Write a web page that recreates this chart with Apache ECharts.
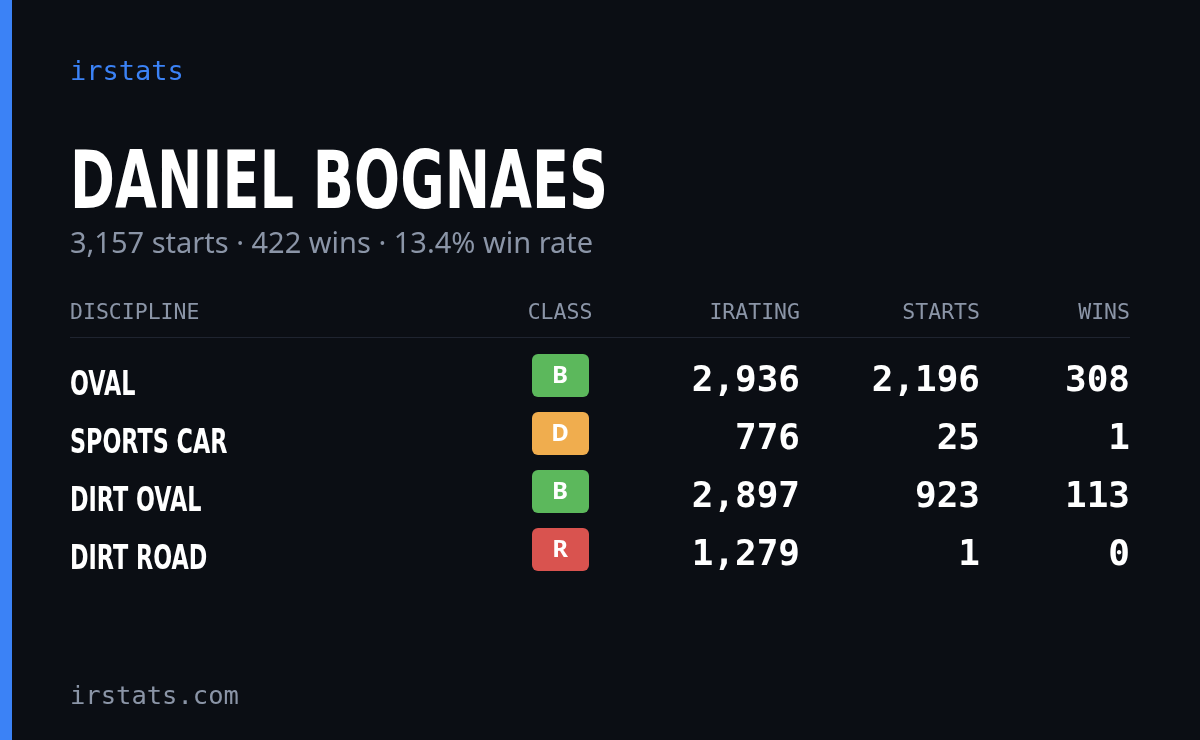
<!DOCTYPE html>
<html><head><meta charset="utf-8">
<script src="https://cdn.jsdelivr.net/npm/echarts@6/dist/echarts.min.js"></script>
<style>html,body{margin:0;background:#0b0e14}#main{width:1200px;height:740px}</style>
</head><body><div id="main"></div>
<script>
var chart = echarts.init(document.getElementById('main'));
var disciplines = ['OVAL', 'SPORTS CAR', 'DIRT OVAL', 'DIRT ROAD'];
var classes = ['B', 'D', 'B', 'R'];
var iratings = [2936, 776, 2897, 1279];
var starts = [2196, 25, 923, 1];
var wins = [308, 1, 113, 0];
var headers = ['DISCIPLINE', 'CLASS', 'IRATING', 'STARTS', 'WINS'];
var classColors = { B: '#5cb85c', D: '#f0ad4e', R: '#d9534f' };

var mono = '"DejaVu Sans Mono", monospace';
var cond = '"DejaVu Sans", sans-serif';
function fmt(n) { return n.toLocaleString('en-US'); }

var g = [
  { type: 'rect', shape: { x: 0, y: 0, width: 12, height: 740 }, style: { fill: '#3b82f6' } },
  { type: 'text', x: 70, y: 73, style: { text: 'irstats', fill: '#3b82f6', font: '27px ' + mono, verticalAlign: 'middle' } },
  // condensed look by squeezing horizontally
  { type: 'text', x: 70, y: 187, scaleX: 0.645, scaleY: 0.95, style: { text: 'DANIEL BOGNAES', fill: '#ffffff', font: 'bold 84px ' + cond, verticalAlign: 'middle' } },
  { type: 'text', x: 70, y: 245, style: { text: '3,157 starts · 422 wins · 13.4% win rate', fill: '#8b95a7', font: '29px "Noto Sans", sans-serif', verticalAlign: 'middle' } },
  { type: 'rect', shape: { x: 70, y: 337, width: 1060, height: 1 }, style: { fill: '#1f2430' } },
  { type: 'text', x: 70, y: 697, style: { text: 'irstats.com', fill: '#8b95a7', font: '25.5px ' + mono, verticalAlign: 'middle' } }
];
var hx = [70, 560, 800, 980, 1130], ha = ['left', 'center', 'right', 'right', 'right'];
headers.forEach(function (h, i) {
  g.push({ type: 'text', x: hx[i], y: 313, style: { text: h, fill: '#8b95a7', font: '21.5px ' + mono, align: ha[i], verticalAlign: 'middle' } });
});
disciplines.forEach(function (d, i) {
  var y = 380 + i * 58;
  g.push({ type: 'text', x: 70, y: y + 6, scaleX: 0.656, style: { text: d, fill: '#ffffff', font: 'bold 34px ' + cond, verticalAlign: 'middle' } });
  g.push({ type: 'rect', shape: { x: 532, y: y - 26, width: 57, height: 43, r: 6 }, style: { fill: classColors[classes[i]] } });
  g.push({ type: 'text', x: 560, y: y - 4, style: { text: classes[i], fill: '#ffffff', font: 'bold 24px "Noto Sans", sans-serif', align: 'center', verticalAlign: 'middle' } });
  [iratings[i], starts[i], wins[i]].forEach(function (v, j) {
    g.push({ type: 'text', x: hx[j + 2], y: y + 2, style: { text: fmt(v), fill: '#ffffff', font: 'bold 36px ' + mono, align: 'right', verticalAlign: 'middle' } });
  });
});
chart.setOption({ backgroundColor: '#0b0e14', graphic: g });
</script></body></html>
